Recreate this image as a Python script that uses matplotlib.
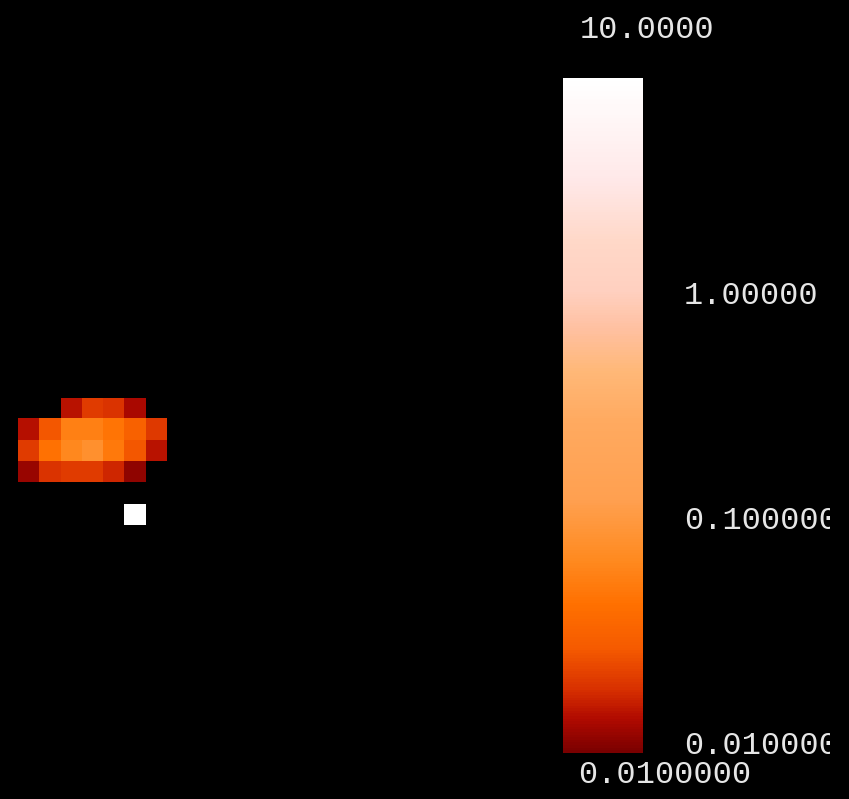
import numpy as np
import matplotlib
matplotlib.use("Agg")
import matplotlib.pyplot as plt
from matplotlib.colors import LinearSegmentedColormap, LogNorm

# cell values on the 7 x 6 grid (NaN = no data, drawn black)
nan = np.nan
row0 = [nan, nan, 0.0150, 0.0214, 0.0200, 0.0137, nan]
row1 = [0.0146, 0.0280, 0.0620, 0.0620, 0.0500, 0.0340, 0.0210]
row2 = [0.0214, 0.0470, 0.0700, 0.0880, 0.0540, 0.0280, 0.0150]
row3 = [0.0123, 0.0200, 0.0214, 0.0214, 0.0180, 0.0115, nan]
row4 = [nan, nan, nan, nan, nan, nan, nan]
row5 = [nan, nan, nan, nan, nan, 10.0, nan]

vmin, vmax = 0.01, 10.0
tick_values = [10.0, 1.0, 0.1, 0.01]
tick_labels = ["10.0000", "1.00000", "0.100000", "0.0100000"]

# colour table in log space (0 = vmin, 1 = vmax)
cmap_pos = [0.0, 0.049, 0.093, 0.153, 0.219, 0.286, 0.375, 0.493, 0.567,
            0.627, 0.686, 0.76, 0.849, 0.938, 1.0]
cmap_hex = ["#7a0000", "#b00a00", "#d83000", "#f55a00", "#ff7000", "#ff8a20",
            "#ffa050", "#ffaa60", "#ffb878", "#ffc0a0", "#ffd0c0", "#ffd8c8",
            "#ffe8e8", "#fff6f6", "#ffffff"]

W, H = 849, 799
fig = plt.figure(figsize=(W / 100, H / 100), dpi=100, facecolor="black")

cmap = LinearSegmentedColormap.from_list("warm", list(zip(cmap_pos, cmap_hex)))
cmap.set_bad("black")
norm = LogNorm(vmin=vmin, vmax=vmax)

grid = np.ma.masked_invalid(np.array([row0, row1, row2, row3, row4, row5]))

def px_axes(x0, y0, x1, y1):
    return fig.add_axes([x0 / W, 1 - y1 / H, (x1 - x0) / W, (y1 - y0) / H])

ax = px_axes(18, 398, 167, 525)
ax.set_facecolor("black")
im = ax.imshow(grid, cmap=cmap, norm=norm, aspect="auto",
               interpolation="nearest")
ax.axis("off")

cax = px_axes(563, 78, 643, 753)
cb = fig.colorbar(im, cax=cax)
cb.outline.set_visible(False)
cax.set_yticks([])
cax.minorticks_off()

# labels, clipped at the right edge
lab = fig.add_axes([0, 0, 830 / W, 1])
lab.set_xlim(0, 830)
lab.set_ylim(H, 0)
lab.axis("off")
lab.patch.set_alpha(0)

def val_to_y(v):
    t = (np.log10(v) - np.log10(vmin)) / (np.log10(vmax) - np.log10(vmin))
    return 753 - t * (753 - 78)

font = dict(family="Liberation Mono", fontsize=23, color="#e6e6e6",
            va="center", ha="left", clip_on=True)
lab.text(580, 30, tick_labels[0], **font)
for v, s in zip(tick_values[1:], tick_labels[1:]):
    lab.text(684, val_to_y(v) - 7, s, **font)
lab.text(578, 775, tick_labels[-1], **font)

fig.savefig("out.png", dpi=100, facecolor="black")
